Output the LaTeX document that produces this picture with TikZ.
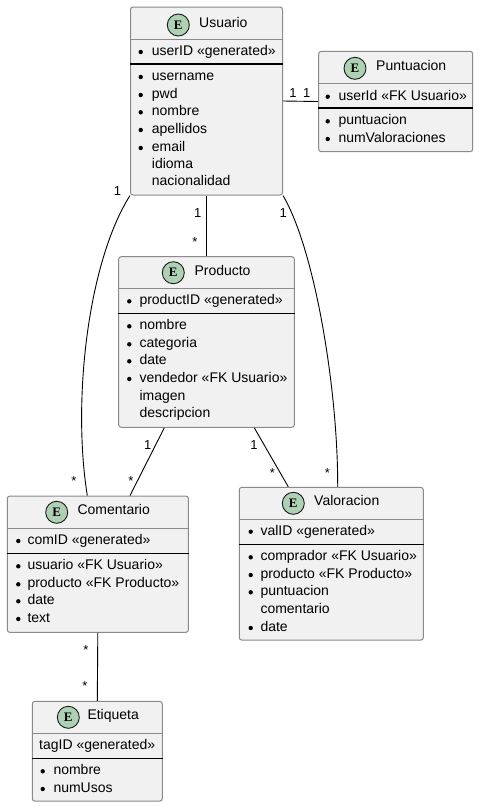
\documentclass[tikz,border=0pt]{standalone}
\usepackage{fontspec}
\setmainfont{Liberation Sans}
\newfontfamily\badgefont{Liberation Serif}
\usetikzlibrary{calc}

\definecolor{boxfill}{HTML}{F1F1F1}
\definecolor{boxline}{HTML}{8A8A8A}
\definecolor{badgebg}{HTML}{ADD1B2}

\begin{document}
\begin{tikzpicture}[
    x=1pt, y=-1pt,
    entity/.style={rectangle, draw=boxline, fill=boxfill, line width=1pt,
                   rounded corners=2.5pt, inner sep=0pt},
    hdr/.style={draw=boxline, line width=1pt},
    keyline/.style={draw=black, line width=1.1pt},
    badge/.style={circle, draw=black!90, fill=badgebg, line width=0.9pt,
                  minimum size=22pt, inner sep=0pt,
                  font=\badgefont\bfseries\fontsize{13}{13}\selectfont},
    title/.style={anchor=west, inner sep=0pt, text height=9pt, text depth=4pt,
                  font=\fontsize{14}{16}\selectfont},
    field/.style={anchor=west, inner sep=0pt, text height=9pt, text depth=4pt,
                  font=\fontsize{14}{16}\selectfont},
    mult/.style={anchor=base, inner sep=0pt, font=\fontsize{13}{13}\selectfont},
    rel/.style={draw=black, line width=0.9pt}
]
    \useasboundingbox (0,0) rectangle (479,807);
    \fill[white] (0,0) rectangle (479,807);

    % Usuario
    \node[entity, minimum width=152pt, minimum height=188pt] (usuario) at (206.5,101) {};
    \node[badge] (usuario-badge) at (178.3,25) {E};
    \node[title] (usuario-title) at (199,25) {Usuario};
    \draw[hdr] (usuario.west |- 0,39) -- (usuario.east |- 0,39);
    \draw[keyline] (usuario.west |- 0,64) -- (usuario.east |- 0,64);
    \foreach \b/\t/\y [count=\i] in {1/userID «generated»/53, 1/username/78, 1/pwd/96,
        1/nombre/113.3, 1/apellidos/131, 1/email/149, 0/idioma/166, 0/nacionalidad/183} {
        \ifnum\b=1 \fill (140.7,\y-1) circle[radius=2.2pt]; \fi
        \node[field] (usuario-f\i) at (151.7,\y) {\t};
    }

    % Puntuacion
    \node[entity, minimum width=154pt, minimum height=100.4pt] (puntuacion) at (395.7,101.5) {};
    \node[badge] (puntuacion-badge) at (355,68.3) {E};
    \node[title] (puntuacion-title) at (376,68.3) {Puntuacion};
    \draw[hdr] (puntuacion.west |- 0,83.3) -- (puntuacion.east |- 0,83.3);
    \draw[keyline] (puntuacion.west |- 0,108) -- (puntuacion.east |- 0,108);
    \foreach \b/\t/\y [count=\i] in {1/userId «FK Usuario»/97.7, 1/puntuacion/122.3,
        1/numValoraciones/140} {
        \ifnum\b=1 \fill (327.7,\y-1) circle[radius=2.2pt]; \fi
        \node[field] (puntuacion-f\i) at (338.3,\y) {\t};
    }

    % Producto
    \node[entity, minimum width=175.6pt, minimum height=170.6pt] (producto) at (206.5,342) {};
    \node[badge] (producto-badge) at (173.3,272.7) {E};
    \node[title] (producto-title) at (194.3,272.7) {Producto};
    \draw[hdr] (producto.west |- 0,288.7) -- (producto.east |- 0,288.7);
    \draw[keyline] (producto.west |- 0,313.3) -- (producto.east |- 0,313.3);
    \foreach \b/\t/\y [count=\i] in {1/productID «generated»/302.3, 1/nombre/327.3,
        1/categoria/345.3, 1/date/362.3, 1/vendedor «FK Usuario»/380, 0/imagen/398.3,
        0/descripcion/415.3} {
        \ifnum\b=1 \fill (129.3,\y-1) circle[radius=2.2pt]; \fi
        \node[field] (producto-f\i) at (139.3,\y) {\t};
    }

    % Comentario
    \node[entity, minimum width=181pt, minimum height=136.3pt] (comentario) at (97.8,564.2) {};
    \node[badge] (comentario-badge) at (56.7,512.3) {E};
    \node[title] (comentario-title) at (77.3,512.3) {Comentario};
    \draw[hdr] (comentario.west |- 0,528.3) -- (comentario.east |- 0,528.3);
    \draw[keyline] (comentario.west |- 0,553.3) -- (comentario.east |- 0,553.3);
    \foreach \b/\t/\y [count=\i] in {1/comID «generated»/542, 1/usuario «FK Usuario»/567.3,
        1/producto «FK Producto»/585.3, 1/date/602.3, 1/text/620} {
        \ifnum\b=1 \fill (18.3,\y-1) circle[radius=2.2pt]; \fi
        \node[field] (comentario-f\i) at (27.3,\y) {\t};
    }

    % Valoracion
    \node[entity, minimum width=184pt, minimum height=152.7pt] (valoracion) at (331.3,563.7) {};
    \node[badge] (valoracion-badge) at (293.3,503.3) {E};
    \node[title] (valoracion-title) at (314,503.3) {Valoracion};
    \draw[hdr] (valoracion.west |- 0,519.3) -- (valoracion.east |- 0,519.3);
    \draw[keyline] (valoracion.west |- 0,544.3) -- (valoracion.east |- 0,544.3);
    \foreach \b/\t/\y [count=\i] in {1/valID «generated»/532.7, 1/comprador «FK Usuario»/558.3,
        1/producto «FK Producto»/576, 1/puntuacion/593.3, 0/comentario/611, 1/date/629} {
        \ifnum\b=1 \fill (250.7,\y-1) circle[radius=2.2pt]; \fi
        \node[field] (valoracion-f\i) at (260.3,\y) {\t};
    }

    % Etiqueta
    \node[entity, minimum width=130pt, minimum height=99.7pt] (etiqueta) at (97.3,751.2) {};
    \node[badge] (etiqueta-badge) at (68.3,717.3) {E};
    \node[title] (etiqueta-title) at (87.3,717.3) {Etiqueta};
    \draw[hdr] (etiqueta.west |- 0,733.3) -- (etiqueta.east |- 0,733.3);
    \draw[keyline] (etiqueta.west |- 0,758.3) -- (etiqueta.east |- 0,758.3);
    \node[field] (etiqueta-key) at (39,746.7) {tagID «generated»};
    \foreach \b/\t/\y [count=\i] in {1/nombre/772.3, 1/numUsos/790} {
        \ifnum\b=1 \fill (42.7,\y-1) circle[radius=2.2pt]; \fi
        \node[field] (etiqueta-f\i) at (53.3,\y) {\t};
    }

    % relations
    \draw[rel] (usuario.east) -- (puntuacion.west);
    \node[mult] (m-up1) at (293,97.3) {1};
    \node[mult] (m-up2) at (306.7,97.3) {1};

    \draw[rel] (usuario.south) -- (producto.north);
    \node[mult] (m-upr1) at (197.7,217) {1};
    \node[mult] (m-upr2) at (195,246) {*};

    \draw[rel] (usuario.south west) .. controls (88,262) and (72,400)
        .. ($(comentario.north)+(-10.5,0)$);
    \node[mult] (m-uc1) at (117.5,195.6) {1};
    \node[mult] (m-uc2) at (74,485) {*};

    \draw[rel] (usuario.south east) .. controls (315,250) and (338,390)
        .. ($(valoracion.north)+(6.4,0)$);
    \node[mult] (m-uv1) at (283.3,217) {1};
    \node[mult] (m-uv2) at (327.3,477) {*};

    \draw[rel] ($(producto.south)+(-42.2,0)$) -- ($(comentario.north)+(32.2,0)$);
    \node[mult] (m-pc1) at (147.7,449) {1};
    \node[mult] (m-pc2) at (131,485) {*};

    \draw[rel] ($(producto.south)+(47.8,0)$) -- ($(valoracion.north)+(-43,0)$);
    \node[mult] (m-pv1) at (254,449) {1};
    \node[mult] (m-pv2) at (272.3,477) {*};

    \draw[rel] (comentario.south) -- (etiqueta.north);
    \node[mult] (m-ce1) at (86,654.5) {*};
    \node[mult] (m-ce2) at (85,690.5) {*};
\end{tikzpicture}
\end{document}
